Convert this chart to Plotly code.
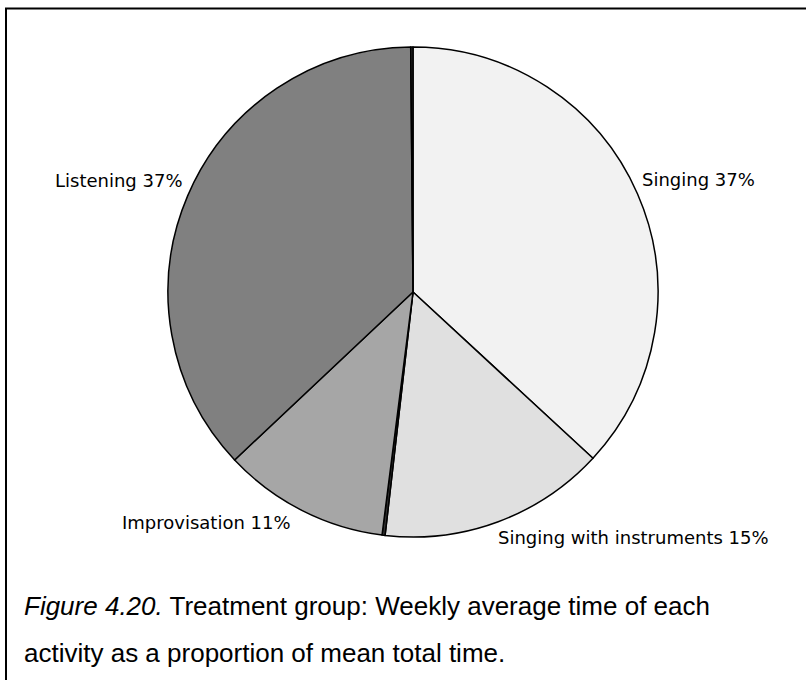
import plotly.graph_objects as go

W, H = 806, 680

activities = ["Singing", "Singing with instruments", "Other (a)", "Improvisation", "Listening", "Other (b)"]
shares = [37.0, 15.0, 0.2, 11.0, 37.0, 0.15]
colors = ["#f2f2f2", "#e0e0e0", "#303030", "#a6a6a6", "#808080", "#303030"]
shown = ["Singing", "Singing with instruments", "Improvisation", "Listening"]

# label placement (pixels from top-left) for the visible labels
label_pos = {
    "Singing": (757, 180, "right"),
    "Listening": (53, 181, "left"),
    "Improvisation": (293, 522, "right"),
    "Singing with instruments": (496, 537, "left"),
}


def px(x):
    return x / W


def py(y):
    return 1 - y / H


fig = go.Figure()
fig.add_trace(go.Pie(
    labels=activities, values=shares, sort=False, direction="clockwise", rotation=0,
    marker=dict(colors=colors, line=dict(color="black", width=1.5)),
    textinfo="none", hoverinfo="label+percent", showlegend=False,
    domain=dict(x=[px(168), px(658)], y=[py(537), py(47)]),
))

total = sum(shares)
for name in shown:
    pct = round(shares[activities.index(name)] / total * 100)
    x, y, anchor = label_pos[name]
    fig.add_annotation(x=px(x), y=py(y), xref="paper", yref="paper", text=f"{name} {pct}%",
                       showarrow=False, xanchor=anchor, yanchor="middle",
                       font=dict(family="DejaVu Sans", size=18, color="black"))

caption = ["<i>Figure 4.20.</i> Treatment group: Weekly average time of each",
           "activity as a proportion of mean total time."]
for i, line in enumerate(caption):
    fig.add_annotation(x=px(22), y=py(606 + i * 47), xref="paper", yref="paper", text=line,
                       showarrow=False, xanchor="left", yanchor="middle",
                       font=dict(family="Liberation Sans", size=26, color="black"))

fig.add_shape(type="rect", xref="paper", yref="paper", x0=px(6), y0=py(720), x1=px(830), y1=py(8.5),
              line=dict(color="black", width=2), fillcolor="rgba(0,0,0,0)")

fig.update_layout(width=W, height=H, margin=dict(l=0, r=0, t=0, b=0),
                  paper_bgcolor="white", plot_bgcolor="white")
fig.write_html("out.html", config={"displayModeBar": False},
               post_script="document.body.style.margin='0px';")
